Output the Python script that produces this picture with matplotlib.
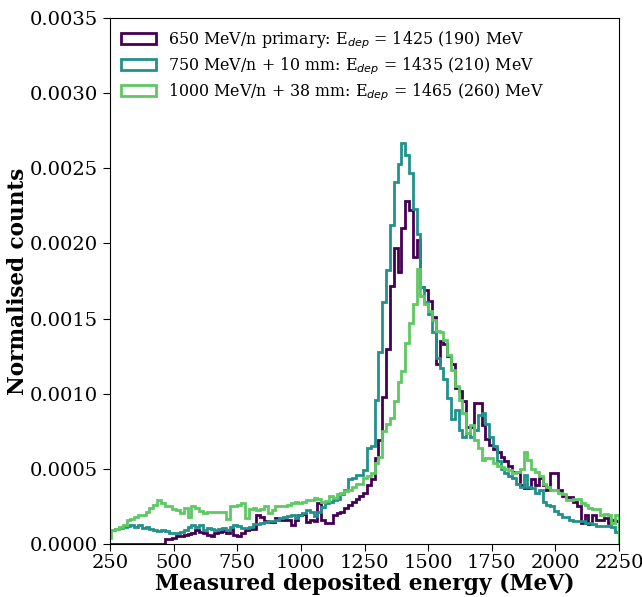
import numpy as np
import matplotlib
matplotlib.use("Agg")
import matplotlib.pyplot as plt
from matplotlib.ticker import FormatStrFormatter

# Bin edges (MeV): 15 MeV bins
bin_start = 240
bin_width = 15
n_bins = 134
edges = bin_start + bin_width * np.arange(n_bins + 1)

# Normalised counts, in units of 1e-4
counts_650 = [
    0, 0, 0, 0, 0, 0, 0, 0, 0, 0,
    0, 0, 0, 0, 0, 0.3, 0.35, 0.4, 0.5, 0.55,
    0.6, 0.65, 0.7, 0.95, 0.8, 0.75, 0.6, 0.5, 0.7, 0.8,
    0.85, 0.75, 1.0, 0.6, 0.5, 0.7, 0.95, 1.0, 1.0, 1.9,
    1.8, 1.55, 1.45, 1.45, 1.7, 1.6, 1.6, 1.6, 1.27, 1.6,
    1.9, 2.0, 1.45, 1.6, 1.55, 2.7, 1.6, 1.4, 1.4, 1.9,
    2.05, 2.15, 2.4, 2.6, 2.8, 3.0, 3.2, 3.4, 3.9, 4.3,
    5.7, 6.9, 9.8, 13.0, 17.2, 19.7, 18.1, 21.0, 22.8, 22.2,
    19.1, 20.2, 17.1, 16.9, 16.2, 15.1, 12.0, 13.5, 13.3, 12.5,
    12.0, 10.4, 10.2, 9.5, 7.8, 7.8, 9.4, 9.4, 7.9, 7.0,
    6.6, 6.3, 6.1, 5.8, 5.5, 5.2, 4.8, 4.8, 3.9, 3.7,
    3.7, 4.3, 3.9, 4.4, 3.9, 3.6, 4.7, 4.7, 3.6, 3.2,
    3.1, 3.1, 2.8, 2.5, 1.4, 1.9, 1.3, 1.9, 1.6, 1.6,
    1.7, 1.4, 1.6, 1.5,
]
counts_750 = [
    0.9, 0.95, 1.0, 1.05, 1.15, 1.2, 1.25, 1.15, 1.25, 1.05,
    1.15, 1.0, 0.95, 0.85, 0.9, 0.85, 0.75, 0.72, 0.7, 0.82,
    0.9, 1.1, 1.25, 1.15, 1.25, 0.95, 1.05, 0.98, 0.93, 1.0,
    1.05, 0.9, 1.15, 1.25, 1.2, 1.05, 1.05, 1.1, 1.3, 1.35,
    1.4, 1.45, 1.55, 1.55, 1.6, 1.7, 1.8, 1.85, 1.95, 1.75,
    1.95, 2.05, 2.25, 2.15, 1.85, 2.15, 2.45, 2.7, 2.8, 2.95,
    3.0, 3.3, 3.6, 4.35, 4.4, 4.6, 4.6, 4.9, 6.4, 6.5,
    9.6, 12.8, 16.1, 18.2, 21.2, 24.1, 25.3, 26.7, 25.9, 24.7,
    22.3, 20.6, 17.1, 16.1, 15.3, 14.1, 12.4, 11.7, 11.0, 9.7,
    8.3, 8.9, 7.6, 7.1, 7.4, 7.1, 7.6, 8.6, 8.7, 8.0,
    7.1, 6.5, 5.5, 5.0, 4.7, 4.5, 4.4, 4.0, 3.8, 4.6,
    3.8, 3.7, 3.4, 3.6, 2.8, 2.6, 2.5, 2.2, 2.0, 1.8,
    1.8, 1.6, 1.5, 1.5, 1.5, 1.4, 1.4, 1.3, 1.2, 1.2,
    1.2, 1.2, 1.1, 0.8,
]
counts_1000 = [
    0.4, 0.9, 1.0, 1.15, 1.26, 1.6, 1.65, 1.8, 1.9, 1.95,
    2.15, 2.4, 2.6, 2.95, 2.7, 2.55, 2.5, 2.3, 2.25, 2.05,
    2.4, 1.8, 2.5, 2.4, 2.2, 2.05, 2.1, 2.15, 2.15, 2.15,
    2.1, 1.65, 2.55, 2.55, 2.6, 2.7, 1.7, 2.3, 2.4, 2.25,
    2.3, 2.5, 2.05, 2.25, 2.5, 2.5, 2.55, 2.6, 2.7, 2.8,
    2.75, 2.8, 2.9, 2.95, 3.05, 3.0, 2.8, 2.85, 3.2, 3.05,
    3.35, 3.4, 3.5, 3.6, 3.8, 4.0, 4.0, 4.4, 4.5, 4.7,
    5.4, 5.8, 7.5, 8.0, 8.4, 9.5, 10.8, 11.5, 13.4, 14.7,
    16.0, 18.3, 16.5, 16.0, 15.5, 14.9, 14.2, 14.1, 13.6, 12.6,
    11.6, 10.5, 9.6, 8.7, 7.4, 7.9, 6.9, 6.4, 5.6, 5.7,
    5.7, 5.4, 5.2, 5.1, 5.0, 4.9, 4.7, 4.8, 5.0, 6.1,
    5.6, 5.0, 4.8, 4.5, 4.0, 3.8, 3.6, 3.6, 3.4, 3.3,
    2.9, 2.9, 3.0, 3.0, 2.7, 2.6, 2.4, 2.3, 2.3, 1.9,
    2.0, 1.9, 1.4, 1.9,
]
scale = 1e-4

labels = [
    "650 MeV/n primary: E$_{dep}$ = 1425 (190) MeV",
    "750 MeV/n + 10 mm: E$_{dep}$ = 1435 (210) MeV",
    "1000 MeV/n + 38 mm: E$_{dep}$ = 1465 (260) MeV",
]
colors = ["#440154", "#21918c", "#5ec962"]

x_ticks = [250, 500, 750, 1000, 1250, 1500, 1750, 2000, 2250]
y_ticks = [0.0, 0.0005, 0.0010, 0.0015, 0.0020, 0.0025, 0.0030, 0.0035]

plt.rcParams["font.family"] = ["DejaVu Serif"]

fig = plt.figure(figsize=(6.42, 5.97), dpi=100)
ax = fig.add_axes([110 / 642, 1 - 544 / 597, (619 - 110) / 642, (544 - 18) / 597])

centers = 0.5 * (edges[:-1] + edges[1:])
for vals, lab, col in zip([counts_650, counts_750, counts_1000], labels, colors):
    ax.hist(centers, bins=edges, weights=np.array(vals) * scale,
            histtype="step", color=col, linewidth=2, label=lab)

ax.set_xlim(250, 2250)
ax.set_ylim(0, 0.0035)
ax.set_xticks(x_ticks)
ax.set_yticks(y_ticks)
ax.yaxis.set_major_formatter(FormatStrFormatter("%.4f"))
ax.tick_params(axis="both", labelsize=14, direction="out", length=5)
ax.tick_params(axis="x", pad=2.5)

ax.set_xlabel("Measured deposited energy (MeV)", fontsize=15.7, fontweight="bold", labelpad=0)
ax.set_ylabel("Normalised counts", fontsize=15.5, fontweight="bold", labelpad=1)

ax.legend(loc="upper left", frameon=False, fontsize=11.4, handlelength=2.2,
          borderaxespad=0.3, labelspacing=0.28, handletextpad=0.75)

fig.savefig("out.png", dpi=100)
